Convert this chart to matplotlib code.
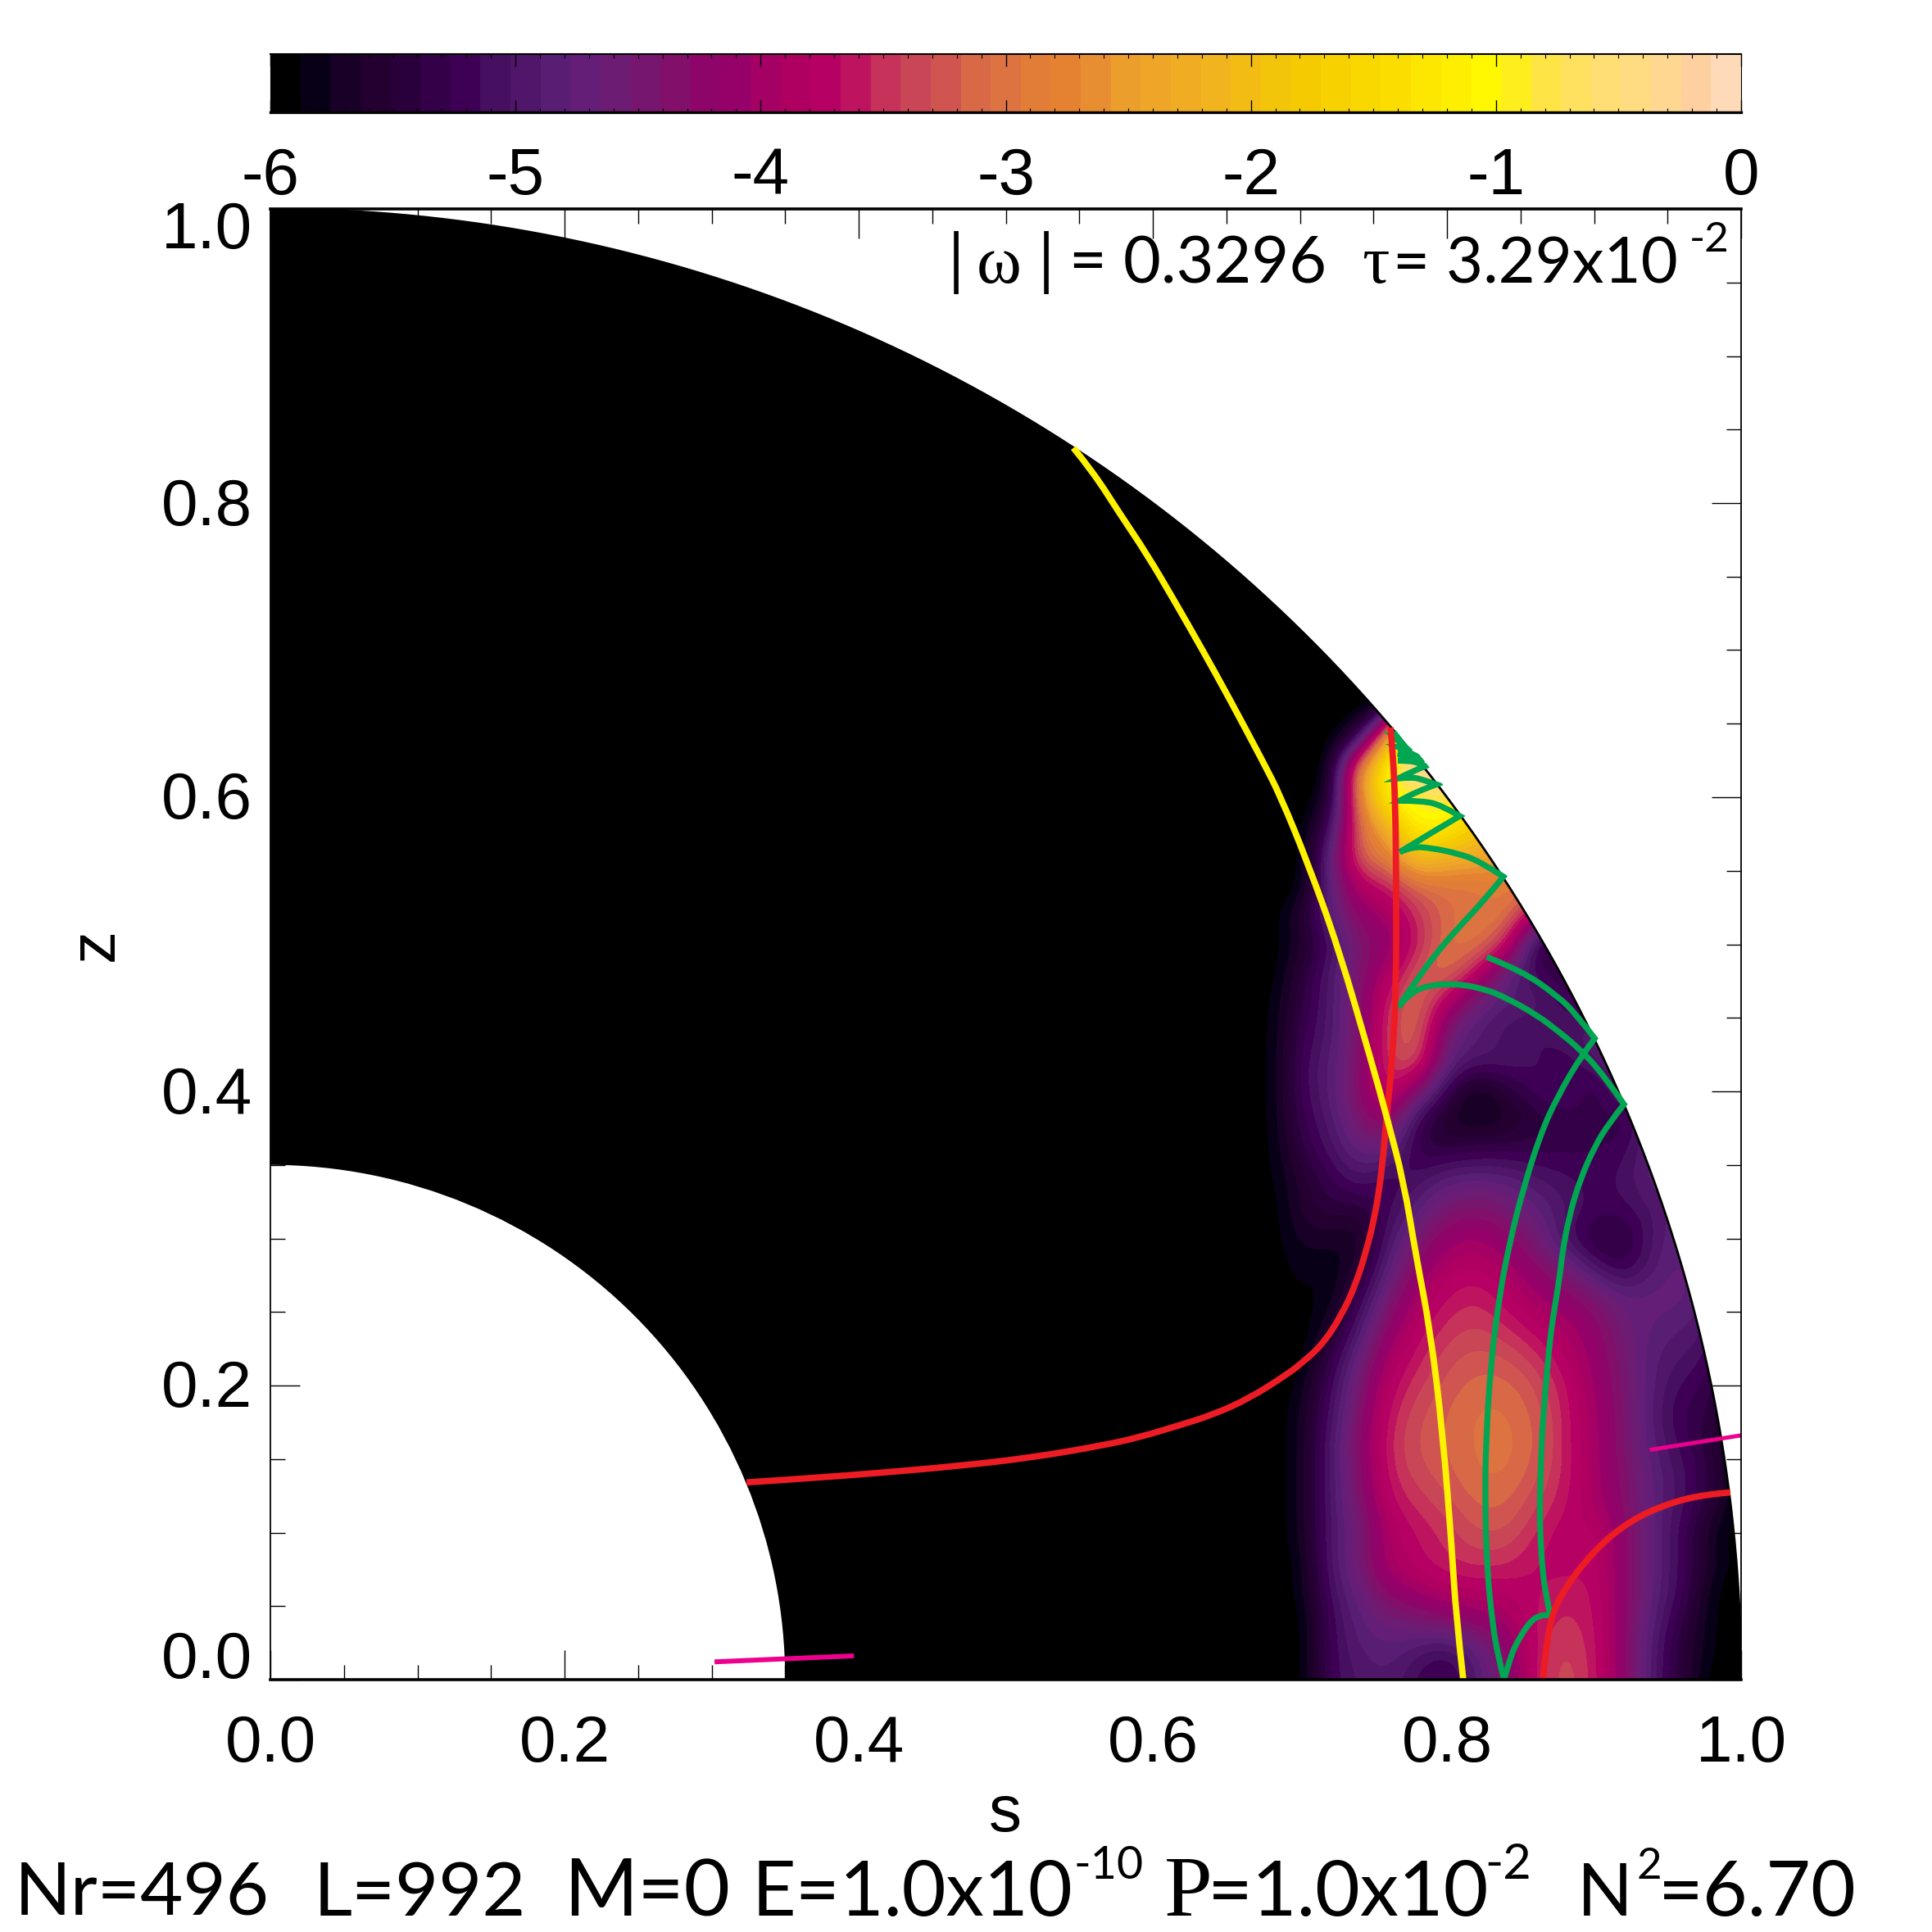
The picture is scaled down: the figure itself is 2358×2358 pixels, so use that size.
import numpy as np
import matplotlib
matplotlib.use('Agg')
import matplotlib.pyplot as plt
from matplotlib.colors import ListedColormap
from matplotlib.patches import Wedge, PathPatch
from matplotlib.path import Path
from matplotlib.transforms import ScaledTranslation

# colour table (49 bands from -6 to 0)
band_rgb = [
    (0, 0, 0), (8, 0, 22), (24, 0, 38), (35, 0, 48), (42, 0, 58), (52, 0, 72), (62, 0, 85),
    (70, 15, 95), (80, 22, 105), (88, 30, 115), (100, 30, 120), (108, 28, 115), (118, 22, 110),
    (130, 15, 105), (142, 5, 105), (150, 0, 105), (165, 0, 100), (175, 0, 98), (182, 0, 100),
    (190, 20, 95), (198, 50, 90), (200, 70, 85), (208, 85, 80), (215, 105, 70), (220, 115, 65),
    (225, 125, 55), (228, 130, 50), (232, 142, 50), (236, 158, 45), (238, 165, 40), (240, 172, 35),
    (242, 180, 30), (243, 188, 20), (243, 197, 10), (245, 202, 0), (247, 210, 0), (249, 216, 0),
    (251, 222, 0), (253, 230, 0), (254, 238, 0), (255, 248, 0), (255, 238, 30), (255, 228, 70),
    (255, 224, 95), (255, 222, 115), (255, 220, 130), (255, 215, 145), (254, 208, 160), (254, 218, 185),
]

# log10 amplitude read on a coarse grid, s = 0.68..1.00, z = 0.00..0.66, both step 0.02
s_grid = [0.68, 0.70, 0.72, 0.74, 0.76, 0.78, 0.80, 0.82, 0.84, 0.86, 0.88, 0.90, 0.92, 0.94, 0.96, 0.98, 1.00]
z_grid = [0.00, 0.02, 0.04, 0.06, 0.08, 0.10, 0.12, 0.14, 0.16, 0.18, 0.20, 0.22, 0.24, 0.26, 0.28, 0.30, 0.32,
          0.34, 0.36, 0.38, 0.40, 0.42, 0.44, 0.46, 0.48, 0.50, 0.52, 0.54, 0.56, 0.58, 0.60, 0.62, 0.64, 0.66]
log_amp = [
    [-6.0, -6.0, -5.2, -5.0, -4.9, -5.2, -5.4, -4.9, -4.4, -3.62, -3.3, -3.58, -4.2, -5.0, -5.5, -6.0, -6.0],
    [-6.0, -6.0, -5.2, -4.9, -4.8, -5.0, -5.2, -4.8, -4.3, -3.65, -3.35, -3.6, -4.2, -5.0, -5.5, -5.9, -6.0],
    [-6.0, -6.0, -5.2, -4.8, -4.6, -4.5, -4.3, -4.2, -4.0, -3.65, -3.5, -3.62, -4.2, -4.9, -5.4, -5.9, -6.0],
    [-6.0, -5.9, -5.1, -4.7, -4.2, -4.0, -3.85, -3.8, -3.8, -3.7, -3.58, -3.65, -4.2, -4.8, -5.2, -5.9, -6.0],
    [-6.0, -5.9, -5.0, -4.5, -3.9, -3.72, -3.55, -3.5, -3.5, -3.7, -3.75, -3.7, -4.2, -4.8, -5.2, -5.7, -6.0],
    [-6.0, -5.8, -5.0, -4.6, -3.9, -3.65, -3.5, -3.3, -3.3, -3.55, -3.8, -3.7, -4.2, -4.8, -5.2, -5.8, -6.0],
    [-6.0, -5.8, -5.0, -4.45, -3.7, -3.5, -3.35, -3.15, -3.15, -3.4, -3.65, -3.95, -4.3, -4.8, -5.1, -5.5, -6.0],
    [-6.0, -5.8, -5.0, -4.35, -3.58, -3.35, -3.22, -3.05, -3.03, -3.25, -3.6, -3.95, -4.35, -4.8, -5.1, -5.4, -6.0],
    [-6.0, -5.8, -5.0, -4.3, -3.53, -3.28, -3.17, -3.03, -3.0, -3.15, -3.6, -3.98, -4.4, -4.9, -5.2, -5.5, -6.0],
    [-6.0, -5.8, -5.1, -4.4, -3.6, -3.33, -3.17, -3.03, -3.03, -3.2, -3.6, -4.0, -4.4, -4.95, -5.3, -5.4, -6.0],
    [-6.0, -5.9, -5.2, -4.5, -3.75, -3.45, -3.25, -3.12, -3.12, -3.3, -3.65, -4.05, -4.45, -4.9, -5.2, -5.3, -6.0],
    [-6.0, -6.0, -5.4, -4.7, -3.95, -3.6, -3.35, -3.25, -3.3, -3.5, -3.8, -4.1, -4.5, -4.9, -5.0, -5.2, -6.0],
    [-6.0, -6.0, -5.7, -5.0, -4.2, -3.75, -3.5, -3.4, -3.55, -3.75, -3.95, -4.2, -4.6, -4.8, -4.9, -5.0, -6.0],
    [-6.0, -5.9, -5.9, -5.3, -4.5, -3.95, -3.65, -3.55, -3.75, -4.0, -4.2, -4.4, -4.75, -4.7, -4.7, -5.0, -6.0],
    [-6.0, -5.8, -5.9, -5.6, -4.8, -4.2, -3.85, -3.75, -3.95, -4.25, -4.5, -5.0, -5.35, -4.9, -4.7, -5.0, -6.0],
    [-6.0, -5.7, -5.7, -5.8, -5.0, -4.5, -4.1, -4.0, -4.2, -4.5, -5.1, -5.5, -5.5, -5.0, -4.7, -5.0, -6.0],
    [-6.0, -5.6, -5.4, -5.5, -5.2, -4.8, -4.45, -4.35, -4.5, -4.75, -5.0, -5.2, -5.2, -5.0, -4.8, -5.0, -6.0],
    [-5.95, -5.6, -5.3, -5.0, -5.3, -5.1, -4.8, -4.75, -4.8, -5.0, -5.1, -5.2, -5.1, -4.8, -4.8, -5.0, -6.0],
    [-5.95, -5.4, -5.1, -4.7, -4.7, -5.4, -5.4, -5.3, -5.3, -5.3, -5.3, -5.3, -5.2, -4.8, -4.8, -5.0, -6.0],
    [-5.95, -5.3, -5.0, -4.4, -4.1, -5.3, -5.7, -5.8, -5.7, -5.5, -5.4, -5.2, -5.5, -4.7, -4.8, -5.0, -6.0],
    [-5.95, -5.2, -4.9, -4.3, -3.5, -4.4, -5.3, -5.9, -5.5, -5.2, -5.0, -5.5, -4.8, -4.8, -4.8, -5.0, -6.0],
    [-5.95, -5.2, -4.9, -4.4, -3.4, -3.2, -4.8, -5.0, -5.0, -5.1, -5.3, -5.0, -4.8, -4.8, -4.8, -5.0, -6.0],
    [-5.95, -5.3, -5.0, -4.4, -3.4, -3.05, -4.6, -4.9, -5.1, -5.2, -5.0, -4.9, -4.8, -4.8, -4.8, -5.0, -6.0],
    [-5.95, -5.4, -5.0, -4.4, -3.5, -3.0, -3.9, -4.7, -4.9, -4.9, -5.2, -5.4, -5.0, -5.0, -5.0, -5.0, -6.0],
    [-6.0, -5.5, -5.0, -4.4, -3.9, -3.2, -3.0, -3.7, -4.8, -5.2, -5.4, -5.4, -5.0, -5.0, -5.0, -5.0, -6.0],
    [-6.0, -5.7, -5.2, -4.4, -4.2, -3.6, -3.0, -2.95, -3.5, -5.5, -5.5, -5.4, -5.0, -5.0, -5.0, -5.0, -6.0],
    [-6.0, -5.6, -4.8, -4.2, -4.0, -3.5, -3.1, -2.95, -2.9, -3.9, -5.0, -5.0, -5.0, -5.0, -5.0, -5.0, -6.0],
    [-6.0, -6.0, -4.8, -3.8, -3.6, -3.1, -3.0, -3.0, -2.9, -2.9, -3.0, -3.0, -3.0, -3.0, -3.0, -3.0, -6.0],
    [-6.0, -6.0, -4.8, -3.1, -2.9, -1.8, -2.2, -2.3, -2.5, -2.7, -2.7, -2.7, -2.7, -2.7, -2.7, -2.7, -6.0],
    [-6.0, -6.0, -5.3, -3.1, -2.2, -1.0, -1.2, -1.8, -2.3, -2.3, -2.3, -2.3, -2.3, -2.3, -2.3, -2.3, -6.0],
    [-6.0, -6.0, -5.8, -2.8, -1.0, -0.9, -0.7, -1.1, -1.1, -1.1, -1.1, -1.1, -1.1, -1.1, -1.1, -1.1, -6.0],
    [-6.0, -6.0, -6.0, -2.6, -1.0, -0.1, -0.1, -0.3, -0.3, -0.3, -0.3, -0.3, -0.3, -0.3, -0.3, -0.3, -6.0],
    [-6.0, -6.0, -6.0, -5.5, -2.0, 0.0, 0.0, 0.0, 0.0, 0.0, 0.0, 0.0, 0.0, 0.0, 0.0, 0.0, -6.0],
    [-6.0, -6.0, -6.0, -6.0, -6.0, 0.0, 0.0, 0.0, 0.0, 0.0, 0.0, 0.0, 0.0, 0.0, 0.0, 0.0, -6.0],
]

# rays, read as (s, z)
yellow_s = [0.5460, 0.5590, 0.5775, 0.5961, 0.6147, 0.6333, 0.6518, 0.6750, 0.6866, 0.7053, 0.7264, 0.7488, 0.7594, 0.7707, 0.7790, 0.7886, 0.7971, 0.8034, 0.8061, 0.8111]
yellow_z = [0.8375, 0.8217, 0.7929, 0.7651, 0.7335, 0.7010, 0.6676, 0.6240, 0.6012, 0.5555, 0.4969, 0.4198, 0.3814, 0.3380, 0.2879, 0.2379, 0.168, 0.0886, 0.044, 0.0]

red1_s = [0.3238, 0.3673, 0.4170, 0.4668, 0.5165, 0.5663, 0.5911, 0.6160, 0.6409, 0.6657, 0.6906, 0.7010, 0.7150, 0.7280, 0.7382, 0.7456, 0.7502, 0.7539, 0.7567, 0.7586, 0.7627, 0.7655, 0.7655, 0.7649, 0.7632, 0.7616]
red1_z = [0.1341, 0.1370, 0.1408, 0.1452, 0.1508, 0.1593, 0.1649, 0.1723, 0.1801, 0.1913, 0.2071, 0.2150, 0.2275, 0.2470, 0.2693, 0.2934, 0.3120, 0.3324, 0.3565, 0.3788, 0.420, 0.4696, 0.5443, 0.594, 0.6312, 0.6474]

red2_s = [0.8652, 0.868, 0.8758, 0.9003, 0.9253, 0.9504, 0.975, 0.9927]
red2_z = [0.0, 0.0312, 0.0563, 0.0886, 0.1086, 0.1198, 0.1259, 0.1273]

green_s = [0.7636, 0.7679, 0.7654, 0.7716, 0.7666, 0.7762, 0.7666, 0.7809, 0.7666, 0.7744, 0.7800, 0.7855, 0.7762, 0.7669,
           0.7762, 0.7837, 0.7929, 0.7781, 0.7679, 0.7837, 0.7967, 0.8087, 0.7874, 0.7679, 0.7762, 0.7892, 0.8078, 0.8227,
           0.8384, 0.8259, 0.8060, 0.7911, 0.7786, 0.7667, 0.7737, 0.7861, 0.8060, 0.8259, 0.8408, 0.8607, 0.8756, 0.8906,
           0.9055, 0.9204, 0.9105, 0.9005, 0.8906, 0.8831, 0.8781, 0.8769, 0.8719, 0.8694, 0.8662, 0.8644, 0.8632, 0.8632,
           0.8652, 0.8677, 0.8702, 0.8644, 0.8570, 0.8495, 0.8433, 0.8388, 0.8346, 0.8309, 0.8271, 0.8259, 0.8266, 0.8296,
           0.8358, 0.8433, 0.8508, 0.8632, 0.8756, 0.8918, 0.9005, 0.8881, 0.8756, 0.8508, 0.8271]
green_z = [0.6444, 0.6388, 0.6397, 0.6342, 0.6342, 0.6295, 0.6295, 0.6258, 0.6249, 0.6247, 0.6236, 0.6212, 0.6175, 0.6128,
           0.6137, 0.6119, 0.6087, 0.6035, 0.5976, 0.5976, 0.5943, 0.5872, 0.5747, 0.5627, 0.5664, 0.5655, 0.5617, 0.5562,
           0.5460, 0.5305, 0.5094, 0.4919, 0.4745, 0.4571, 0.4658, 0.4720, 0.4733, 0.4696, 0.4633, 0.4522, 0.4410, 0.4285,
           0.4124, 0.3912, 0.3788, 0.3626, 0.3402, 0.3154, 0.2880, 0.2751, 0.2452, 0.2253, 0.1880, 0.1631, 0.1258, 0.1010,
           0.0711, 0.0562, 0.0438, 0.0443, 0.0400, 0.0288, 0.0164, 0.0, 0.0164, 0.0388, 0.0761, 0.1258, 0.1632, 0.2129,
           0.2626, 0.2999, 0.3298, 0.3701, 0.3974, 0.4248, 0.4360, 0.4521, 0.4646, 0.4820, 0.4914]
# where the green ray reflects (index into the lists above)
green_cusps = [1, 2, 3, 4, 5, 6, 7, 8, 11, 13, 16, 18, 21, 23, 28, 33, 43, 58, 63, 76]

magenta1_s = [0.302, 0.3968]
magenta1_z = [0.0121, 0.0162]
magenta2_s = [0.9378, 1.0]
magenta2_z = [0.1562, 0.1661]

x_ticks = [0.0, 0.2, 0.4, 0.6, 0.8, 1.0]
y_ticks = [0.0, 0.2, 0.4, 0.6, 0.8, 1.0]
tick_labels = ['0.0', '0.2', '0.4', '0.6', '0.8', '1.0']
cbar_ticks = [-6, -5, -4, -3, -2, -1, 0]
cbar_labels = ['-6', '-5', '-4', '-3', '-2', '-1', '0']

W = 2358
plt.rcParams['font.family'] = ['Liberation Sans', 'DejaVu Sans']

fig = plt.figure(figsize=(W / 100, W / 100), dpi=100, facecolor='white')
ax = fig.add_axes([330 / W, 1 - 2050 / W, 1795 / W, 1795 / W])
cax = fig.add_axes([330 / W, 1 - 137 / W, 1795 / W, 71 / W])

cmap = ListedColormap(np.array(band_rgb) / 255.0)


def draw_ray(s, z, color, lw, zorder, cusps=()):
    # quadratic curves through the read points, sharp at the cusps
    pts = list(zip(s, z))
    stops = [0] + list(cusps) + [len(pts) - 1]
    verts = [pts[0]]
    codes = [Path.MOVETO]
    for a, b in zip(stops[:-1], stops[1:]):
        if b - a == 1:
            verts.append(pts[b])
            codes.append(Path.LINETO)
            continue
        for j in range(a + 1, b):
            end = pts[b] if j == b - 1 else ((pts[j][0] + pts[j + 1][0]) / 2, (pts[j][1] + pts[j + 1][1]) / 2)
            verts += [pts[j], end]
            codes += [Path.CURVE3, Path.CURVE3]
    patch = PathPatch(Path(verts, codes), facecolor='none', edgecolor=color, lw=lw, zorder=zorder,
                      capstyle='butt', joinstyle='miter')
    ax.add_patch(patch)
    patch.set_clip_path(Wedge((0, 0), 1.003, 0, 90, transform=ax.transData))


# field
ax.set_xlim(0, 1)
ax.set_ylim(0, 1)
shell = Wedge((0, 0), 1.0, 0, 90, width=0.65, facecolor='black', edgecolor='none', zorder=1)
ax.add_patch(shell)
hw = 0.01
im = ax.imshow(np.array(log_amp), origin='lower', cmap=cmap, vmin=-6, vmax=0, aspect='auto', zorder=2,
               extent=(s_grid[0] - hw, s_grid[-1] + hw, z_grid[0] - hw, z_grid[-1] + hw),
               interpolation='bicubic', interpolation_stage='data')
im.set_clip_path(Wedge((0, 0), 1.0, 0, 90, width=0.65, transform=ax.transData))
ax.set_xlim(0, 1)
ax.set_ylim(0, 1)

# outer edge
th = np.linspace(0, np.pi / 2, 400)
ax.plot(np.cos(th), np.sin(th), color='black', lw=2.0, zorder=3)

draw_ray(green_s, green_z, '#00a651', 5.2, 4, cusps=green_cusps)
draw_ray(red1_s, red1_z, '#ed1c24', 5.6, 5)
draw_ray(red2_s, red2_z, '#ed1c24', 5.6, 5)
draw_ray(yellow_s, yellow_z, '#fff200', 5.6, 6)
ax.plot(magenta1_s, magenta1_z, color='#ec008c', lw=4.3, zorder=6, solid_capstyle='butt', clip_on=False)
ax.plot(magenta2_s, magenta2_z, color='#ec008c', lw=3.6, zorder=6, solid_capstyle='butt', clip_on=False)

# axes furniture
ax.set_xticks(x_ticks)
ax.set_xticklabels(tick_labels)
ax.set_yticks(y_ticks)
ax.set_yticklabels(tick_labels)
ax.set_xticks(np.arange(0, 1.001, 0.05), minor=True)
ax.set_yticks(np.arange(0, 1.001, 0.05), minor=True)
ax.tick_params(which='major', direction='in', length=26, width=1.0, top=True, right=True, labelsize=57.6, zorder=8)
ax.tick_params(which='minor', direction='in', length=13, width=1.0, top=True, right=True, zorder=8)
ax.tick_params(axis='x', which='major', pad=30)
ax.tick_params(axis='y', which='major', pad=16)
ax.spines['top'].set_linewidth(2.6)
ax.spines['bottom'].set_linewidth(2.6)
ax.spines['left'].set_linewidth(1.3)
ax.spines['right'].set_linewidth(1.3)
for sp in ax.spines.values():
    sp.set_zorder(9)

ylabs = ax.get_yticklabels()
for lab in ylabs:
    lab.set_va('center')
    lab.set_transform(lab.get_transform() + ScaledTranslation(0, -0.06, fig.dpi_scale_trans))
ylabs[0].set_va('bottom')
ylabs[0].set_transform(ylabs[0].get_transform() + ScaledTranslation(0, -0.09, fig.dpi_scale_trans))
ylabs[-1].set_va('top')
ylabs[-1].set_transform(ylabs[-1].get_transform() + ScaledTranslation(0, 0.16, fig.dpi_scale_trans))

# colour bar
cax.imshow(np.linspace(-6, 0, 980).reshape(1, -1), cmap=cmap, vmin=-6, vmax=0, aspect='auto',
           extent=(-6, 0, 0, 1), interpolation='nearest')
cax.set_yticks([])
cax.set_xticks(cbar_ticks)
cax.set_xticklabels(cbar_labels)
cax.set_xticks(np.arange(-6, 0.001, 0.1), minor=True)
cax.tick_params(which='major', direction='in', length=11, width=1.0, top=True, labelsize=57.6, pad=30)
cax.tick_params(which='minor', direction='in', length=3.6, width=0.8, top=True)
cax.spines['top'].set_linewidth(1.5)
cax.spines['bottom'].set_linewidth(2.4)
cax.spines['left'].set_linewidth(0.8)
cax.spines['right'].set_linewidth(0.8)


def put(x, y, txt, size, family='Lato', **kw):
    # x, y in picture pixels, y is the baseline
    return fig.text(x / W, 1 - y / W, txt, fontsize=size, family=[family, 'DejaVu Sans'], ha='left', va='baseline', **kw)


# axis names
fig.text(1227 / W, 1 - 2214 / W, 's', fontsize=57.6, ha='center', va='center')
fig.text(117 / W, 1 - 1153 / W, 'z', fontsize=57.6, rotation=90, ha='center', va='center')

# frequency and damping
put(1157, 345, '|', 58)
put(1192, 345, '\u03c9', 60, family='Liberation Serif')
put(1267, 345, '|', 58)
put(1305, 345, '= 0.3296', 57)
put(1662, 345, '\u03c4', 60, family='Liberation Serif')
put(1700, 345, '= 3.29x10', 56)
put(2062, 307, '-2', 37)

# run parameters
put(18, 2338, 'Nr=496', 65)
put(383, 2338, 'L=992', 66)
put(688, 2338, 'M=0', 70)
put(917, 2338, 'E=1.0x10', 67)
put(1310, 2293, '-10', 40)
put(1421, 2338, 'P', 76, family='Liberation Serif')
put(1474, 2338, '=1.0x10', 68)
put(1812, 2293, '-2', 43)
put(1925, 2338, 'N', 64)
put(1998, 2293, '2', 38)
put(2024, 2338, '=6.70', 68)

fig.savefig('out.png', dpi=100)
